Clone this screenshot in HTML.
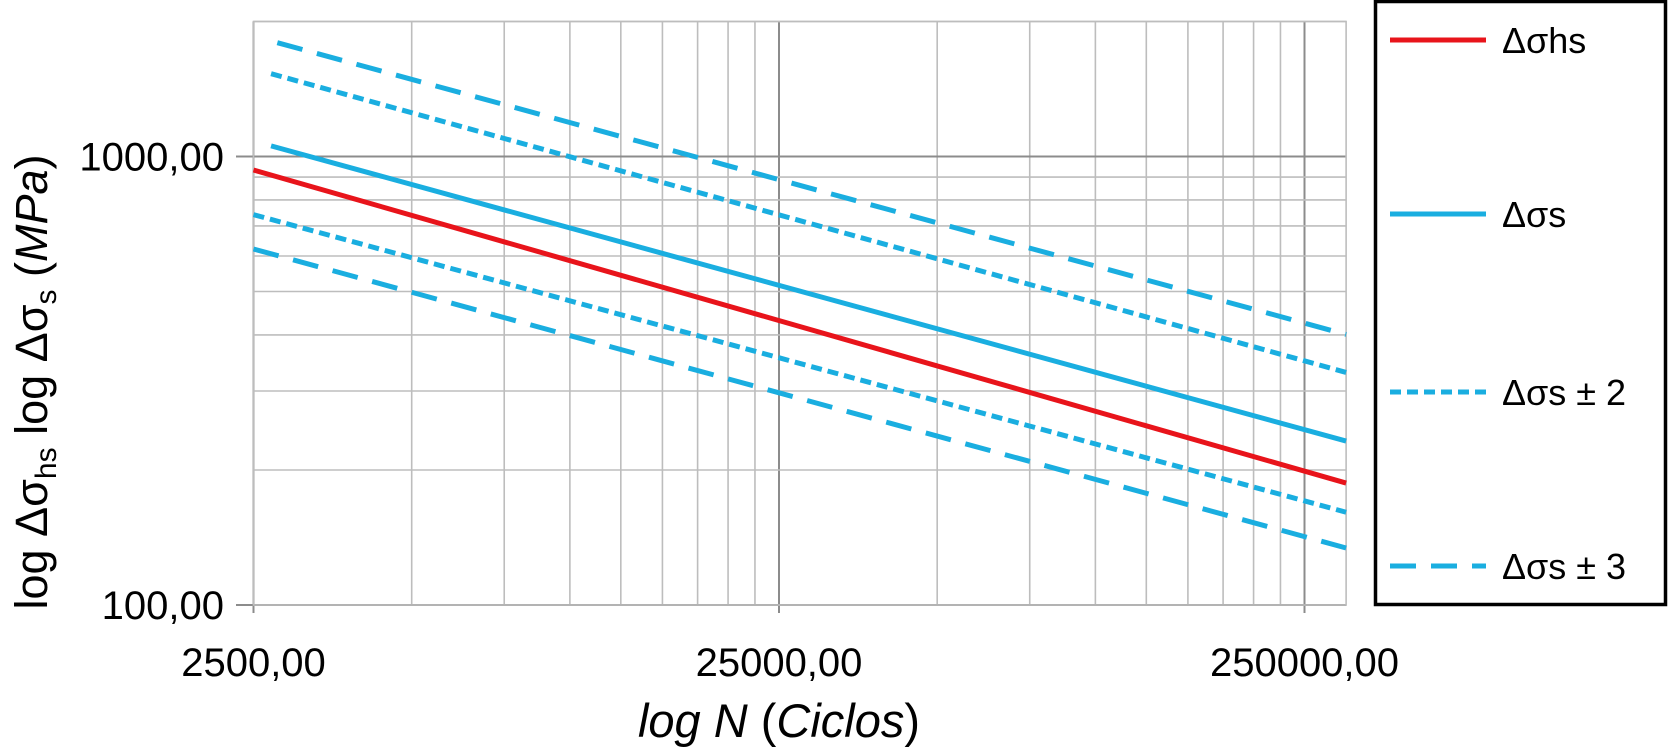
<!DOCTYPE html>
<html><head><meta charset="utf-8"><style>
html,body{margin:0;padding:0;background:#fff;width:1670px;height:748px;overflow:hidden}
svg{display:block;font-family:"Liberation Sans",sans-serif}
</style></head><body>
<svg id="chart" width="1670" height="748" viewBox="0 0 1670 748">
<g id="grid"></g>
<g id="series"></g>
<g id="ticks"></g>
<text x="779" y="737" font-size="47" text-anchor="middle"><tspan font-style="italic">log N</tspan> (<tspan font-style="italic">Ciclos</tspan>)</text>
<text transform="translate(47,382) rotate(-90)" font-size="45" text-anchor="middle">log Δσ<tspan font-size="30" dy="9">hs</tspan><tspan dy="-9"> log Δσ</tspan><tspan font-size="30" dy="9">s</tspan><tspan dy="-9"> (</tspan><tspan font-style="italic">MPa</tspan>)</text>
<g>
<rect x="1375.5" y="1.5" width="290" height="603" fill="#fff" stroke="#000" stroke-width="3.5"/>
<g id="legend-items"></g>
</g>
</svg>
<script>
// data
const seriesNames = ["Δσhs","Δσs","Δσs ± 2","Δσs ± 3"];
const cyclesStart = [2500, 2700, 2700, 2775, 2500, 2500];
const cyclesEnd = [300000, 300000, 300000, 300000, 300000, 300000];
const stressStart = [933, 1056, 1530, 1794, 742, 622];
const stressEnd = [187, 232, 330, 401, 161, 134];
const seriesKey = ["hs","s","s2","s3","s2","s3"];
const xTicks = [2500, 25000, 250000];
const xTickLabels = ["2500,00","25000,00","250000,00"];
const yTicks = [100, 1000];
const yTickLabels = ["100,00","1000,00"];

const NS="http://www.w3.org/2000/svg";
const X0=253.5, XD=525.5, Y0=605, YD=448.5;
const xs=n=>X0+XD*Math.log10(n/2500);
const ys=v=>Y0-YD*Math.log10(v/100);
const xMax=300000, yMax=2000;
const styles={hs:{c:"#e8141b",d:""},s:{c:"#1aaee0",d:""},s2:{c:"#1aaee0",d:"11 6"},s3:{c:"#1aaee0",d:"26 15"}};
function mk(tag,attrs,parent){const e=document.createElementNS(NS,tag);for(const k in attrs)e.setAttribute(k,attrs[k]);parent.appendChild(e);return e;}
const grid=document.getElementById('grid');
[2500,25000,250000].forEach(dec=>{
  for(let k=1;k<=9;k++){const n=dec*k;if(n>xMax)break;const x=xs(n);const major=k===1;
    const l=mk('line',{x1:x,x2:x,y1:ys(yMax),y2:major?613:Y0,stroke:major?"#8c8c8c":"#bdbdbd","stroke-width":major?2:1.6},grid);
    
    }
});
[100,1000].forEach(dec=>{
  for(let k=1;k<=9;k++){const v=dec*k;if(v>yMax)break;const y=ys(v);const major=k===1;
    const l=mk('line',{x1:major?236:X0,x2:xs(xMax),y1:y,y2:y,stroke:major?"#8c8c8c":"#bdbdbd","stroke-width":major?2:1.6},grid);
    
    }
});
const frame=mk('rect',{x:X0,y:ys(yMax),width:xs(xMax)-X0,height:Y0-ys(yMax),fill:"none",stroke:"#bdbdbd","stroke-width":1.6},grid);


const sg=document.getElementById('series');
for(let i=0;i<stressStart.length;i++){const st=styles[seriesKey[i]];
  const l=mk('line',{x1:xs(cyclesStart[i]),y1:ys(stressStart[i]),x2:xs(cyclesEnd[i]),y2:ys(stressEnd[i]),stroke:st.c,"stroke-width":5},sg);
  if(st.d)l.setAttribute('stroke-dasharray',st.d);
  
  }
const tg=document.getElementById('ticks');
xTicks.forEach((n,i)=>{const t=mk('text',{x:xs(n),y:676,"font-size":40,"text-anchor":"middle"},tg);t.textContent=xTickLabels[i];
  
  });
yTicks.forEach((v,i)=>{const t=mk('text',{x:224,y:ys(v)+14,"font-size":40,"text-anchor":"end"},tg);t.textContent=yTickLabels[i];
  
  });
const lg=document.getElementById('legend-items');
const legY=[40,214,392,566];const legKey=["hs","s","s2","s3"];
legKey.forEach((k,i)=>{const st=styles[k];const y=legY[i];
  const g=mk('g',{},lg);
  
  
  const l=mk('line',{x1:1390,x2:1486,y1:y,y2:y,stroke:st.c,"stroke-width":5},g);
  if(st.d)l.setAttribute('stroke-dasharray',st.d);
  const t=mk('text',{x:1502,y:y+13,"font-size":36},g);t.textContent=seriesNames[i];});
</script>
</body></html>
